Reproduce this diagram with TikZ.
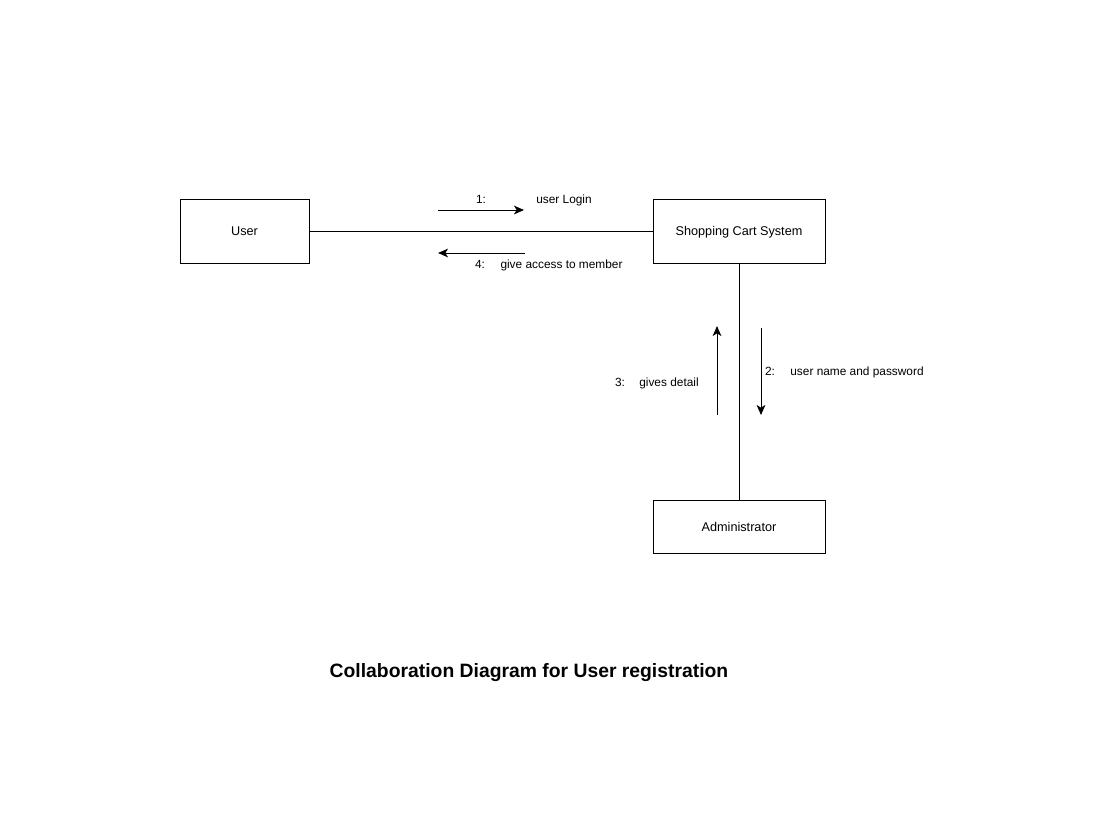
\documentclass[tikz,border=0pt]{standalone}
\usepackage{fontspec}
\setmainfont{Liberation Sans}
\usetikzlibrary{arrows.meta}
\begin{document}
\begin{tikzpicture}[x=0.75pt,y=-0.75pt,
  obj/.style={draw,line width=0.75pt,minimum width=#1*0.75pt,inner sep=0pt,text height=7pt,text depth=0pt,font=\fontsize{9.5}{11}\selectfont},
  lnk/.style={line width=0.75pt},
  msg/.style={line width=0.75pt,-{Stealth[length=7.5pt,width=6.5pt,inset=2pt]}},
  lbl/.style={inner sep=0pt,text height=6.5pt,text depth=0pt,font=\fontsize{8.9}{11}\selectfont}]
\useasboundingbox (0,0) rectangle (1120,822);
\node[obj=129,minimum height=64*0.75pt] (user) at (244.5,231) {User};
\node[obj=172,minimum height=64*0.75pt] (scs) at (739,231) {Shopping Cart System};
\node[obj=172,minimum height=53*0.75pt] (admin) at (739,526.5) {Administrator};
\draw[lnk] (user) -- (scs);
\draw[lnk] (scs) -- (admin);
% message 1
\coordinate (m1a) at (438,210); \coordinate (m1b) at (524,210);
\draw[msg] (m1a) -- (m1b);
\node[lbl] (n1) at (481,199.5) {1:};
\node[lbl] (t1) at (564,199.5) {user Login};
% message 4
\coordinate (m4a) at (525,253); \coordinate (m4b) at (438,253);
\draw[msg] (m4a) -- (m4b);
\node[lbl] (n4) at (480,264.5) {4:};
\node[lbl] (t4) at (561.5,264.5) {give access to member};
% message 3
\coordinate (m3a) at (717,415); \coordinate (m3b) at (717,326);
\draw[msg] (m3a) -- (m3b);
\node[lbl] (n3) at (620,382.5) {3:};
\node[lbl] (t3) at (669,382.5) {gives detail};
% message 2
\coordinate (m2a) at (761,328); \coordinate (m2b) at (761,415);
\draw[msg] (m2a) -- (m2b);
\node[lbl] (n2) at (770,371.5) {2:};
\node[lbl] (t2) at (857,371.5) {user name and password};
% title
\node[inner sep=0pt,font=\fontsize{14.5}{17}\selectfont\bfseries] (title) at (529,672.5) {Collaboration Diagram for User registration};
\end{tikzpicture}
\end{document}
